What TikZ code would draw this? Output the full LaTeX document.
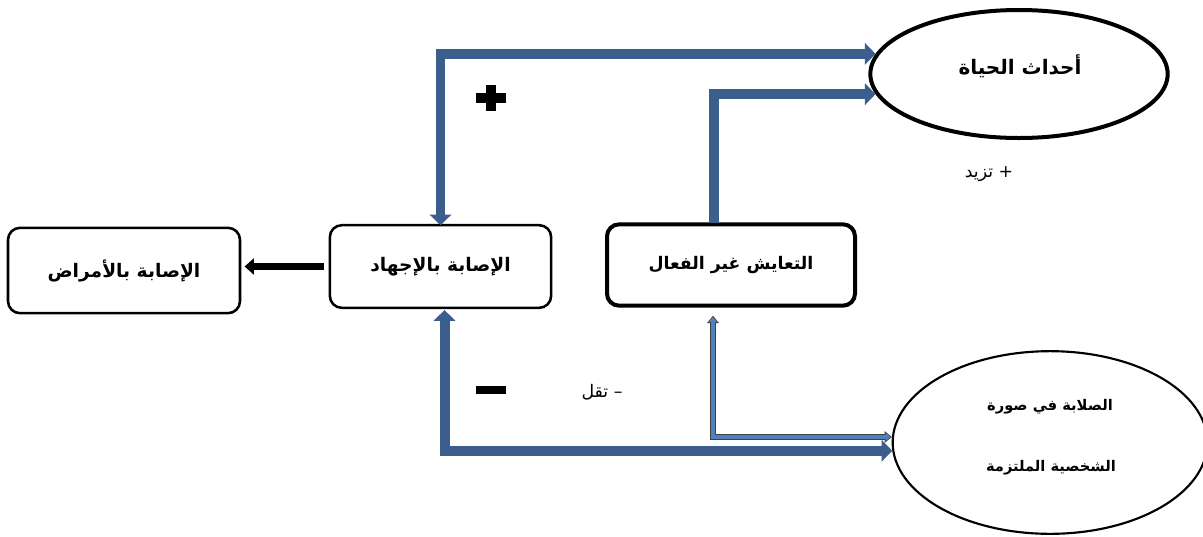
\documentclass[tikz,border=0pt]{standalone}
\usepackage{fontspec}
\newfontfamily\arabicfont[Script=Arabic]{DejaVu Sans}
\TeXXeTstate=1
\usetikzlibrary{arrows.meta,shapes.geometric,calc}
\definecolor{flowblue}{RGB}{59,94,140}
\definecolor{lightblue}{RGB}{79,129,189}
\begin{document}
\begin{tikzpicture}[x=0.75pt,y=-0.75pt,
  box/.style={draw=black, rectangle, rounded corners=9pt, line width=1.9pt,
    inner sep=0pt, font=\arabicfont\bfseries\fontsize{14}{16}\selectfont},
  oval/.style={draw=black, ellipse, inner sep=0pt, fill=white},
  flow/.style={draw=flowblue, line width=7pt, line join=miter},
  fhead/.style={-{Triangle[width=16pt,length=8pt]}},
  bothheads/.style={{Triangle[width=16pt,length=8pt]}-{Triangle[width=16pt,length=8pt]}},
  thinout/.style={draw=black!75, line width=4pt, line join=miter},
  thinin/.style={draw=lightblue, line width=2.6pt, line join=miter},
  signbar/.style={fill=black, inner sep=0pt},
  lbl/.style={font=\arabicfont\fontsize{13}{15}\selectfont, inner sep=0pt},
  ovaltext/.style={font=\arabicfont\bfseries\fontsize{11}{13}\selectfont}
]
\useasboundingbox (0,0) rectangle (1203,536);

% boxes
\node[box, minimum width=174pt, minimum height=64pt] (disease) at (124,270.5)
  {\beginR الإصابة بالأمراض\endR};
\node[box, minimum width=166pt, minimum height=62pt] (stress) at (440.5,266.5)
  {\beginR الإصابة بالإجهاد\endR};
\node[box, line width=3pt, minimum width=186pt, minimum height=61pt,
  font=\arabicfont\bfseries\fontsize{13}{15}\selectfont] (coping) at (731,265)
  {\beginR التعايش غير الفعال\endR};

% ellipses
\node[oval, line width=3pt, minimum width=223pt, minimum height=96pt] (events) at (1019,74) {};
\node[font=\arabicfont\bfseries\fontsize{15}{17}\selectfont] (eventstext) at (1020,66) {\beginR أحداث الحياة\endR};

\node[oval, line width=1.6pt, minimum width=236pt, minimum height=137pt] (hard) at (1050,442.5) {};
\node[ovaltext] (hardtop) at (1050,407) {\beginR الصلابة في صورة\endR};
\node[ovaltext] (hardbot) at (1051,468) {\beginR الشخصية الملتزمة\endR};

% bend points of the connectors
\coordinate (upstart) at ($(coping.north)+(-17,1)$);
\coordinate (upbend) at (upstart |- events.188);
\coordinate (topbend) at (stress.north |- events.172);
\coordinate (lowstart) at ($(stress.south)+(4,1)$);
\coordinate (lowbend) at (lowstart |- hard.183);
\coordinate (thintip) at ($(coping.south)+(-18,8)$);
\coordinate (corner) at (thintip |- 0,437);
\coordinate (thinend) at (corner -| hard.178);

% feedback arrows
\draw[flow, bothheads] ([yshift=-1pt]stress.north) -- (topbend) -- (events.172);
\draw[flow, fhead] (upstart) -- (upbend) -- (events.188);
\draw[flow, line width=7.5pt, bothheads] (lowstart) -- (lowbend) -- (hard.183);

% thin outlined arrows
\draw[thinout, {Triangle[width=8.5pt,length=5.5pt]}-{Triangle[width=8.5pt,length=5.5pt]}]
  (thintip) -- (corner) -- (thinend);
\draw[thinin, {Triangle[width=6pt,length=3.8pt]}-{Triangle[width=6pt,length=3.8pt]},
  shorten <=1pt, shorten >=1pt]
  (thintip) -- (corner) -- (thinend);

% black arrow to diseases
\draw[line width=5.5pt, -{Triangle[width=12pt,length=7pt]}, shorten <=3.5pt, shorten >=2.5pt]
  (stress.west) -- (stress.west -| disease.east);

% plus and minus signs
\node[signbar, minimum width=22.5pt, minimum height=7.5pt] (plush) at (491,98) {};
\node[signbar, minimum width=7.5pt, minimum height=20pt] (plusv) at (491,98) {};
\node[signbar, minimum width=22.5pt, minimum height=6pt] (minus) at (491,390) {};

% labels
\node[lbl] (inc) at (989,174) {\beginR + تزيد\endR};
\node[lbl] (dec) at (602,392) {\beginR – تقل\endR};
\end{tikzpicture}
\end{document}
